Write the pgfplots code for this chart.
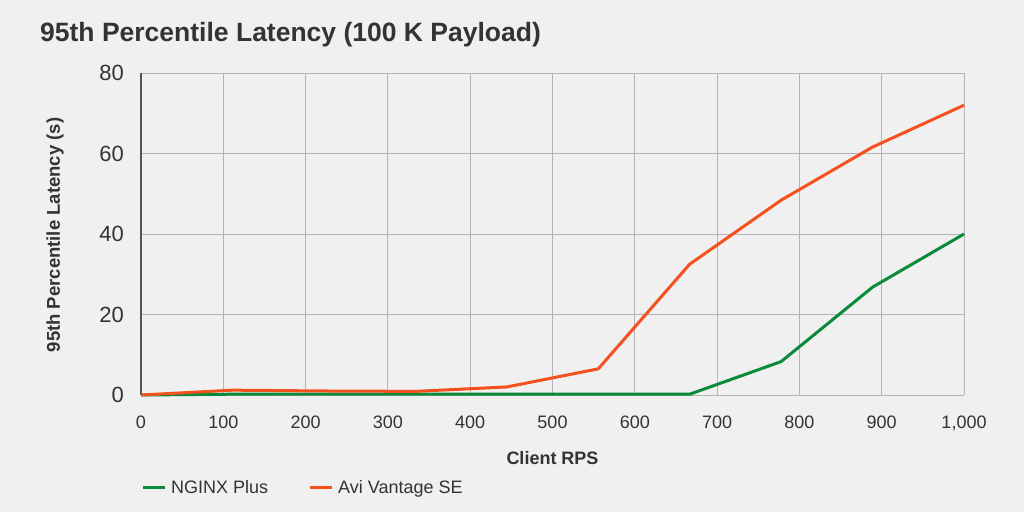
\documentclass[border=0pt]{standalone}
\usepackage{pgfplots}
\pgfplotsset{compat=1.18}
\usepackage{fontspec}
\setmainfont{Liberation Sans}
\definecolor{bg}{HTML}{F0F0F0}
\definecolor{gridc}{HTML}{B4B4B4}
\definecolor{txt}{HTML}{333333}
\definecolor{axc}{HTML}{555555}
\definecolor{ngreen}{HTML}{0B8A3A}
\definecolor{aorange}{HTML}{F4511E}
\begin{document}
\begin{tikzpicture}[x=1pt,y=1pt]
\fill[bg] (0,0) rectangle (1024,512);
\node[anchor=base west, text=txt, font=\fontsize{26.5}{30}\selectfont\bfseries, inner sep=0pt] at (40,470) {95th Percentile Latency (100 K Payload)};
\node[anchor=center, rotate=90, text=txt, font=\fontsize{18.5}{20}\selectfont\bfseries] at (55,277) {95th Percentile Latency (s)};
\node[anchor=center, text=txt, font=\fontsize{18}{20}\selectfont\bfseries] at (552.5,54) {Client RPS};
\begin{axis}[
  at={(141pt,117pt)}, anchor=south west,
  width=823pt, height=322pt, scale only axis,
  xmin=0, xmax=1000, ymin=0, ymax=80,
  xtick={0,100,...,1000}, ytick={0,20,...,80},
  axis x line=bottom, axis y line=left,
  axis line style={-},
  x axis line style={gridc, line width=1pt},
  y axis line style={axc, line width=1.5pt},
  grid=major, major grid style={gridc, line width=1pt},
  tick style={draw=none}, major tick length=0pt,
  /pgf/number format/assume math mode=true,
  /pgf/number format/1000 sep={,},
  xticklabel style={font=\fontsize{18}{20}\selectfont, text=txt, inner sep=0pt, anchor=north, yshift=-21pt},
  yticklabel style={font=\fontsize{22}{24}\selectfont, text=txt, inner sep=0pt, anchor=east, xshift=-17pt},
  legend columns=2,
  legend style={at={(axis description cs:0,0)}, anchor=west, yshift=-92.5pt, draw=none, fill=none, inner sep=0pt, font=\fontsize{18}{20}\selectfont, text=txt,
    /tikz/every odd column/.append style={column sep=3pt},
    /tikz/every even column/.append style={column sep=38pt}},
  legend image code/.code={\draw[#1, line width=3pt] (0pt,0pt) -- (22pt,0pt);},
  clip=false,
]
\addplot[ngreen, line width=3pt] coordinates {
(0,0) (111.1,0.2) (222.2,0.2) (333.3,0.2) (444.4,0.2) (555.6,0.2) (666.7,0.2) (777.8,8.3) (888.9,26.8) (1000,40)
};
\addlegendentry{NGINX Plus}
\addplot[aorange, line width=3pt] coordinates {
(0,0) (111.1,1.2) (222.2,1.0) (333.3,0.9) (444.4,2.0) (555.6,6.5) (666.7,32.5) (777.8,48.4) (888.9,61.6) (1000,72)
};
\addlegendentry{Avi Vantage SE}
\end{axis}
\end{tikzpicture}
\end{document}
